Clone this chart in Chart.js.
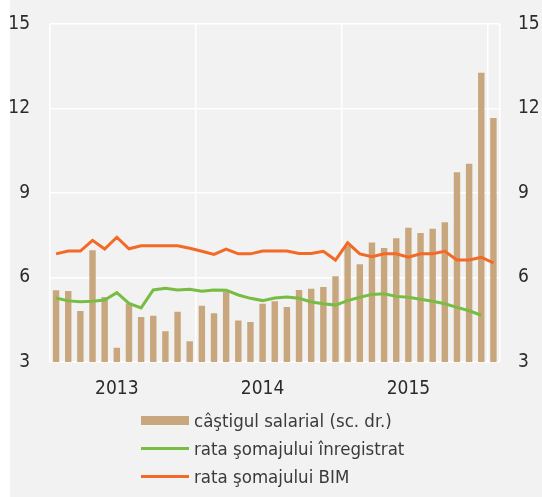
<!DOCTYPE html>
<html>
<head>
<meta charset="utf-8">
<script src="https://cdn.jsdelivr.net/npm/chart.js@4/dist/chart.umd.min.js"></script>
<style>
  html, body { margin: 0; padding: 0; background: #fff; }
  #wrap { position: relative; width: 542px; height: 497px; }
  #chart { position: absolute; left: 0; top: 0; }
  #legend { position: absolute; left: 141px; top: 406px; font-family: "Liberation Sans Narrow", "DejaVu Sans Condensed", sans-serif; font-size: 18.5px; color: #3a3a3a; }
  .row { display: flex; align-items: center; height: 28px; }
  .sw { width: 48px; margin-right: 5px; }
</style>
</head>
<body>
<div id="wrap">
  <canvas id="chart" width="542" height="497"></canvas>
  <div id="legend"></div>
</div>
<script>
// Data
let months = [
    "2013-01", "2013-02", "2013-03", "2013-04", "2013-05", "2013-06", "2013-07", "2013-08", "2013-09", "2013-10", "2013-11", "2013-12",
    "2014-01", "2014-02", "2014-03", "2014-04", "2014-05", "2014-06", "2014-07", "2014-08", "2014-09", "2014-10", "2014-11", "2014-12",
    "2015-01", "2015-02", "2015-03", "2015-04", "2015-05", "2015-06", "2015-07", "2015-08", "2015-09", "2015-10", "2015-11", "2015-12",
    "2016-01"
];
let yearTicks = { 5: "2013", 17: "2014", 29: "2015" };
let yTicks = [3, 6, 9, 12, 15];

let wageGrowth = [
    5.55, 5.52, 4.81, 6.97, 5.31, 3.51, 5.08, 4.60, 4.64, 4.09, 4.78, 3.74,
    5.00, 4.73, 5.50, 4.47, 4.42, 5.07, 5.16, 4.95, 5.56, 5.60, 5.66, 6.04,
    7.12, 6.47, 7.24, 7.05, 7.39, 7.77, 7.58, 7.73, 7.96, 9.74, 10.04, 13.27, 11.66
];
let registeredRate = [
    5.27, 5.17, 5.14, 5.16, 5.20, 5.46, 5.08, 4.92, 5.56, 5.62, 5.56, 5.58,
    5.51, 5.56, 5.55, 5.38, 5.26, 5.18, 5.27, 5.31, 5.26, 5.13, 5.07, 5.02,
    5.18, 5.30, 5.40, 5.42, 5.33, 5.30, 5.23, 5.16, 5.07, 4.94, 4.82, 4.66, null
];
let iloRate = [
    6.84, 6.94, 6.94, 7.32, 7.01, 7.43, 7.02, 7.13, 7.13, 7.13, 7.13, 7.04,
    6.93, 6.82, 7.01, 6.84, 6.84, 6.94, 6.94, 6.94, 6.85, 6.85, 6.93, 6.62,
    7.23, 6.84, 6.74, 6.84, 6.84, 6.72, 6.84, 6.84, 6.93, 6.62, 6.62, 6.72, 6.52
];

let barColor = "#c9a77e";
let greenColor = "#78bd43";
let orangeColor = "#f26a25";
let font = "'Liberation Sans Narrow', 'DejaVu Sans Condensed', sans-serif";

// Grey panel behind everything
let panel = {
    id: "panel",
    beforeDraw(chart) {
        let ctx = chart.ctx;
        ctx.save();
        ctx.fillStyle = "#f2f2f2";
        ctx.fillRect(10, 0, chart.width - 10, chart.height);
        ctx.restore();
    }
};

let yAxis = (position) => ({
    type: "linear",
    position: position,
    min: 3,
    max: 15,
    afterBuildTicks: (scale) => { scale.ticks = yTicks.map(v => ({ value: v })); },
    afterFit: (scale) => {
        scale.width = position === "left" ? 50 : 42.5;
        scale.paddingTop = 0;
        scale.paddingBottom = 0;
    },
    grid: { display: position === "left", color: "#ffffff", lineWidth: 1.5, drawTicks: false },
    border: { display: false },
    ticks: { padding: position === "left" ? 20 : 18.5, color: "#2b2b2b", font: { family: font, size: 19 } }
});

new Chart(document.getElementById("chart"), {
    data: {
        labels: months,
        datasets: [
            {
                type: "bar",
                label: "câştigul salarial (sc. dr.)",
                data: wageGrowth,
                yAxisID: "y2",
                backgroundColor: barColor,
                barPercentage: 0.53,
                categoryPercentage: 1,
                order: 3
            },
            {
                type: "line",
                label: "rata şomajului înregistrat",
                data: registeredRate,
                yAxisID: "y",
                borderColor: greenColor,
                borderWidth: 3,
                pointRadius: 0,
                tension: 0,
                order: 2
            },
            {
                type: "line",
                label: "rata şomajului BIM",
                data: iloRate,
                yAxisID: "y",
                borderColor: orangeColor,
                borderWidth: 3,
                pointRadius: 0,
                tension: 0,
                order: 1
            }
        ]
    },
    options: {
        responsive: false,
        animation: false,
        layout: { padding: { top: 24, bottom: 0, left: 0, right: 0 } },
        plugins: { legend: { display: false }, tooltip: { enabled: false } },
        scales: {
            x: {
                type: "category",
                offset: true,
                afterFit: (scale) => { scale.height = 135; },
                grid: {
                    offset: true,
                    drawTicks: false,
                    lineWidth: 1.5,
                    color: (ctx) => (ctx.index === undefined || ctx.index % 12 === 0) ? "#ffffff" : "rgba(0,0,0,0)"
                },
                border: { display: false },
                ticks: {
                    autoSkip: false,
                    maxRotation: 0,
                    padding: 16,
                    color: "#2b2b2b",
                    font: { family: font, size: 19 },
                    callback: (value, index) => yearTicks[index] || ""
                }
            },
            y: yAxis("left"),
            y2: yAxis("right")
        }
    },
    plugins: [panel]
});

// Legend
let legendItems = [
    { text: "câştigul salarial (sc. dr.)", color: barColor, height: 9 },
    { text: "rata şomajului înregistrat", color: greenColor, height: 3 },
    { text: "rata şomajului BIM", color: orangeColor, height: 3 }
];
let legend = document.getElementById("legend");
legendItems.forEach(item => {
    let row = document.createElement("div");
    row.className = "row";
    row.innerHTML = `<div class="sw" style="height:${item.height}px;background:${item.color}"></div><span>${item.text}</span>`;
    legend.appendChild(row);
});
</script>
</body>
</html>
